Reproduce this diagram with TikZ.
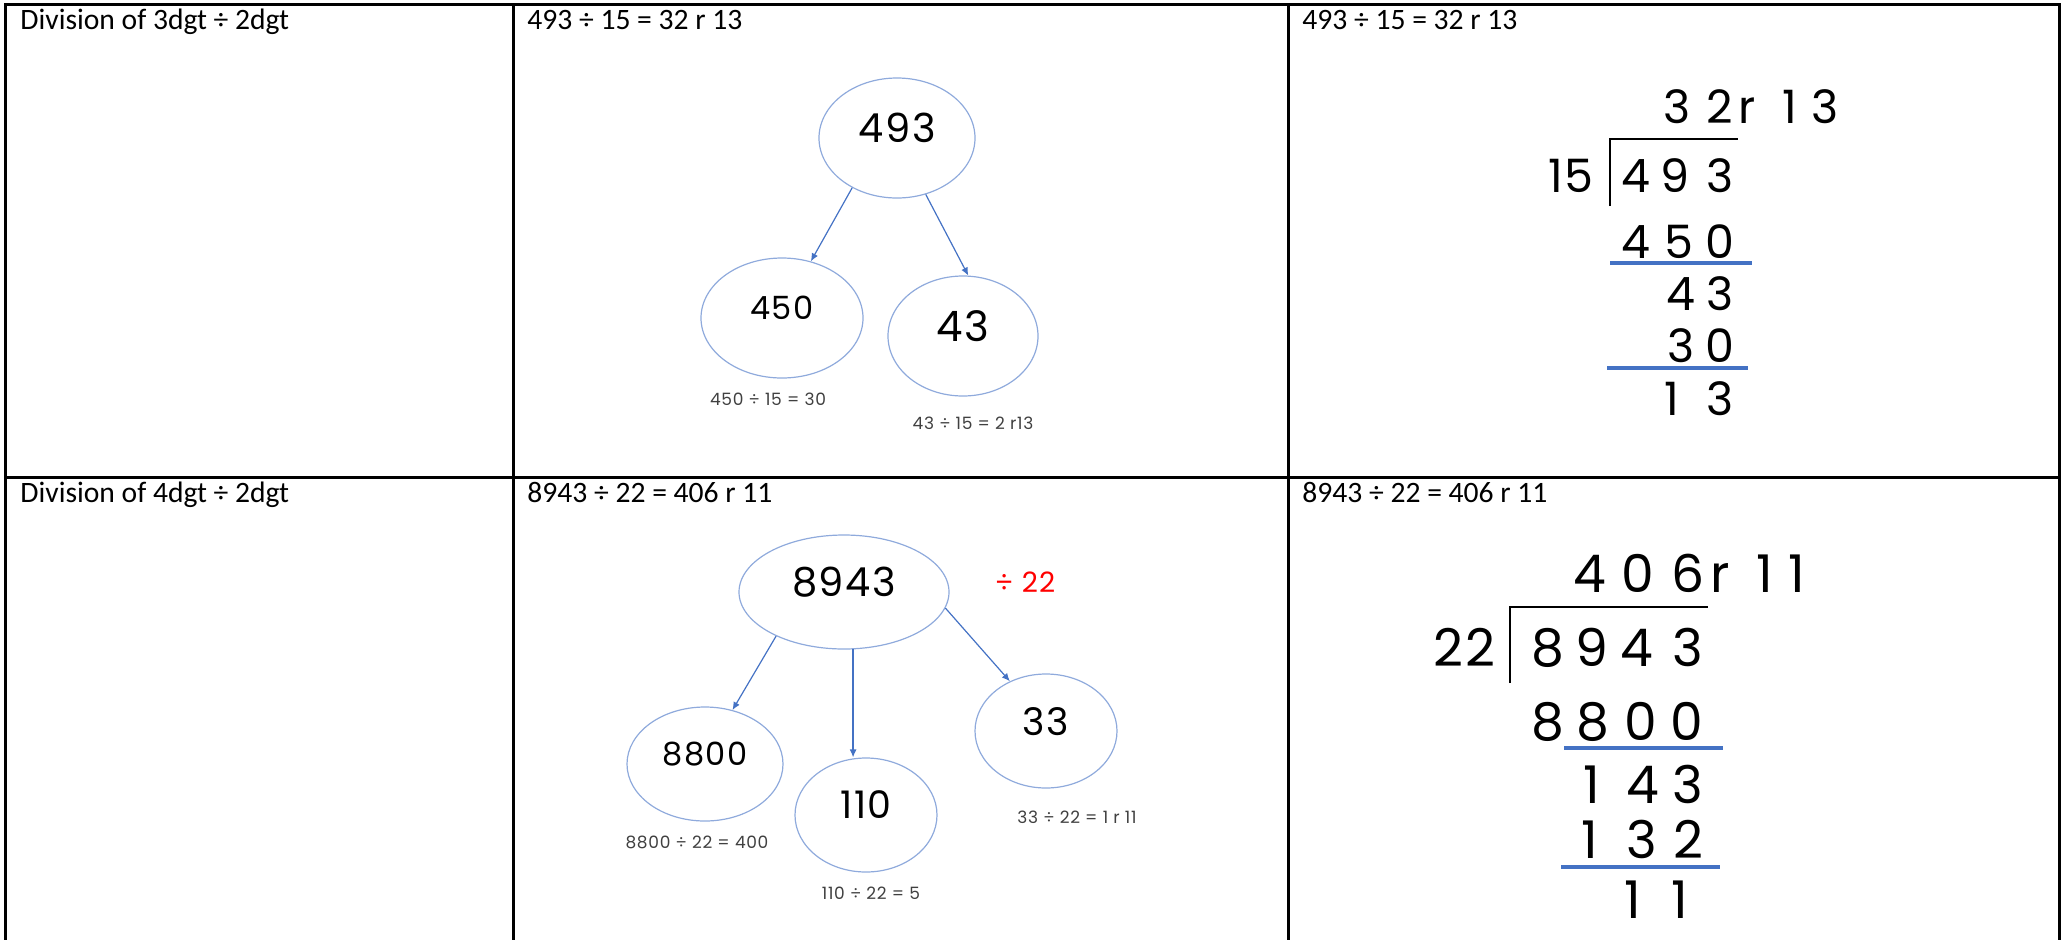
\documentclass[tikz,border=0pt]{standalone}
\usepackage{fontspec}
\setmainfont{Carlito}
\newfontfamily\handfont[LetterSpace=4]{Poppins}
\usetikzlibrary{arrows.meta,shapes.geometric}
\definecolor{RingClr}{RGB}{143,170,220}
\definecolor{ArrowClr}{RGB}{68,114,196}
\definecolor{NoteClr}{RGB}{64,64,64}
\definecolor{DivClr}{RGB}{255,0,0}

\begin{document}
\begin{tikzpicture}[x=0.5pt,y=-0.5pt,
  rule/.style={line width=1.5pt,line cap=rect},
  ring/.style={ellipse,draw=RingClr,line width=0.6pt,inner sep=0pt,text depth=10pt,
    font=\handfont\fontsize{#1}{#1}\selectfont},
  arr/.style={draw=ArrowClr,line width=0.6pt,-{Latex[length=4pt,width=3.5pt]}},
  note/.style={text=NoteClr,inner sep=0pt,font=\handfont\fontsize{8.5}{10}\selectfont},
  head/.style={anchor=base west,inner sep=0pt,font=\fontsize{14.8}{18}\selectfont},
  dgt/.style={anchor=base,inner sep=0pt,font=\handfont\fontsize{#1}{#1}\selectfont},
  bar/.style={ArrowClr,line width=2pt}]

\useasboundingbox (0,0) rectangle (2063,939);

% table
\foreach \x in {5,513,1288,2059} \draw[rule] (\x,4) -- (\x,939);
\foreach \y in {4,477.5} \draw[rule] (5,\y) -- (2059,\y);

\node[head] (h1) at (20,29) {Division of 3dgt ÷ 2dgt};
\node[head] (h2) at (527,29) {493 ÷ 15 = 32 r 13};
\node[head] (h3) at (1302,29) {493 ÷ 15 = 32 r 13};
\node[head] (h4) at (20,502) {Division of 4dgt ÷ 2dgt};
\node[head] (h5) at (527,502) {8943 ÷ 22 = 406 r 11};
\node[head] (h6) at (1302,502) {8943 ÷ 22 = 406 r 11};

% first tree
\node[ring=20,minimum width=78pt,minimum height=60pt] (n493) at (897,138) {493};
\node[ring=16,minimum width=81pt,minimum height=60pt] (n450) at (782,318) {450};
\node[ring=21,minimum width=75pt,minimum height=60pt] (n43) at (963,336) {43};
\draw[arr] (n493.228) -- (n450.63);
\draw[arr] (n493.297) -- (n43.85);
\node[note] (q450) at (768,399) {450 ÷ 15 = 30};
\node[note] (q43) at (973,423) {43 ÷ 15 = 2 r13};

% second tree
\node[ring=20,minimum width=105pt,minimum height=57pt] (n8943) at (844,592) {8943};
\node[ring=16,minimum width=78pt,minimum height=57pt] (n8800) at (705,764) {8800};
\node[ring=19,minimum width=71pt,minimum height=57pt] (n110) at (866,815) {110};
\node[ring=19,minimum width=71pt,minimum height=57pt] (n33) at (1046,731) {33};
\node[text=DivClr,font=\handfont\fontsize{14}{16}\selectfont] (by22) at (1025,582) {÷ 22};
\draw[arr] (n8943.213) -- (n8800.63);
\draw[arr] (n8943.279) -- (n8943.279 |- n110.north);
\draw[arr] (n8943.351) -- (n33.126);
\node[note] (q8800) at (697,842) {8800 ÷ 22 = 400};
\node[note] (q110) at (871,893) {110 ÷ 22 = 5};
\node[note] (q33) at (1077,817) {33 ÷ 22 = 1 r 11};

% long division 493 / 15
\draw[line width=1pt] (1610,206) -- (1610,139) -- (1738,139);
\node[dgt=23] (s15) at (1571,192) {15};
\foreach \d/\x [count=\i] in {3/1677,2/1720,r/1747,1/1790,3/1825}
  \node[dgt=23] (qa\i) at (\x,123) {\d};
\foreach \d/\x [count=\i] in {4/1636,9/1675,3/1720}
  \node[dgt=23] (ea\i) at (\x,192) {\d};
\foreach \d/\x [count=\i] in {4/1636,5/1679,0/1720}
  \node[dgt=23] (fa\i) at (\x,258) {\d};
\foreach \d/\x [count=\i] in {4/1681,3/1720}
  \node[dgt=23] (ga\i) at (\x,310) {\d};
\foreach \d/\x [count=\i] in {3/1681,0/1720}
  \node[dgt=23] (ha\i) at (\x,362) {\d};
\foreach \d/\x [count=\i] in {1/1672,3/1720}
  \node[dgt=23] (ka\i) at (\x,415) {\d};
\draw[bar] (1610,263) -- (1752,263);
\draw[bar] (1607,368) -- (1748,368);

% long division 8943 / 22
\draw[line width=1pt] (1510,683) -- (1510,607) -- (1708,607);
\node[dgt=26] (s22) at (1464,666) {22};
\foreach \d/\x [count=\i] in {4/1590,0/1638,6/1688,r/1720,1/1765,1/1797}
  \node[dgt=26] (qb\i) at (\x,592) {\d};
\foreach \d/\x [count=\i] in {8/1548,9/1592,4/1637,3/1688}
  \node[dgt=26] (eb\i) at (\x,666) {\d};
\foreach \d/\x [count=\i] in {8/1548,8/1593,0/1641,0/1687}
  \node[dgt=26] (fb\i) at (\x,740) {\d};
\foreach \d/\x [count=\i] in {1/1592,4/1643,3/1688}
  \node[dgt=26] (gb\i) at (\x,803) {\d};
\foreach \d/\x [count=\i] in {1/1590,3/1642,2/1688}
  \node[dgt=26] (hb\i) at (\x,858) {\d};
\foreach \d/\x [count=\i] in {1/1633,1/1680}
  \node[dgt=26] (kb\i) at (\x,918) {\d};
\draw[bar] (1564,748) -- (1723,748);
\draw[bar] (1561,867) -- (1720,867);

\end{tikzpicture}
\end{document}
